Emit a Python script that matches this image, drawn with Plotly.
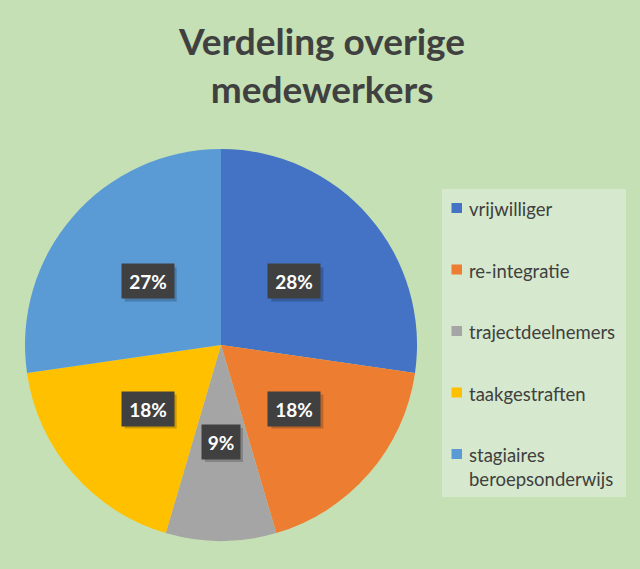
import math
import plotly.graph_objects as go

categories = ["vrijwilliger", "re-integratie", "trajectdeelnemers", "taakgestraften",
              "stagiaires<br>beroepsonderwijs"]
values = [3, 2, 1, 2, 3]
# percentages as printed on the chart (Excel rounds them to total 100%)
pct_labels = ["28%", "18%", "9%", "18%", "27%"]
colors = ["#4472C4", "#ED7D31", "#A5A5A5", "#FFC000", "#5B9BD5"]

W, H = 640, 569
# pie placement in pixels (left, right, top, bottom)
px0, px1, py0, py1 = 25, 417, 148, 542

fig = go.Figure()
fig.add_trace(go.Pie(
    labels=[c.replace("<br>", " ") for c in categories],
    values=values,
    marker=dict(colors=colors),
    sort=False,
    direction="clockwise",
    rotation=0,
    textinfo="none",
    hoverinfo="label+percent",
    showlegend=False,
    domain=dict(x=[px0 / W, px1 / W], y=[1 - py1 / H, 1 - py0 / H]),
))

# data labels: dark boxes at half radius of each slice midpoint
cx = (px0 + px1) / 2
cy = (py0 + py1) / 2
r = min(px1 - px0, py1 - py0) / 2 * 0.495
total = sum(values)
cum = 0
pad = 6
for v, lab in zip(values, pct_labels):
    mid = (cum + v / 2) / total * 2 * math.pi
    cum += v
    x = cx + r * math.sin(mid)
    y = cy - r * math.cos(mid)
    bw = 14 * len(lab) - 2
    bh = 22
    # soft shadow behind the box
    fig.add_shape(type="rect", xref="paper", yref="paper",
                  x0=(x - bw / 2 - pad + 3) / W, x1=(x + bw / 2 + pad + 3) / W,
                  y0=1 - (y + bh / 2 + pad + 3) / H, y1=1 - (y - bh / 2 - pad + 3) / H,
                  fillcolor="rgba(0,0,0,0.2)", line=dict(width=0))
    fig.add_annotation(
        x=x / W, y=1 - y / H, xref="paper", yref="paper",
        xanchor="center", yanchor="middle",
        width=bw, height=bh,
        text="<b>%s</b>" % lab, showarrow=False,
        font=dict(family="Lato", size=19, color="white"),
        bgcolor="#404040", borderpad=pad,
    )

# legend drawn by hand so the spacing matches the original
lx0, lx1, ly0, ly1 = 442, 626, 189, 497
fig.add_shape(type="rect", xref="paper", yref="paper",
              x0=lx0 / W, x1=lx1 / W, y0=1 - ly1 / H, y1=1 - ly0 / H,
              fillcolor="#D6E8CD", line=dict(width=0), layer="below")
step = 61.5
for i, (c, col) in enumerate(zip(categories, colors)):
    yc = 208 + i * step
    fig.add_shape(type="rect", xref="paper", yref="paper",
                  x0=451.5 / W, x1=462 / W, y0=1 - (yc + 5) / H, y1=1 - (yc - 5) / H,
                  fillcolor=col, line=dict(width=0))
    fig.add_annotation(
        x=467 / W, y=1 - (yc - 12) / H, xref="paper", yref="paper",
        xanchor="left", yanchor="top", align="left",
        text=c, showarrow=False,
        font=dict(family="Lato", size=18.5, color="#404040"),
    )

fig.add_annotation(
    x=321 / W, y=1 - 65 / H, xref="paper", yref="paper",
    xanchor="center", yanchor="middle",
    text="<b>Verdeling overige<br>medewerkers</b>", showarrow=False,
    font=dict(family="Lato", size=37, color="#404040"),
)

fig.update_layout(
    width=W, height=H,
    paper_bgcolor="#C5E0B4",
    plot_bgcolor="#C5E0B4",
    margin=dict(l=0, r=0, t=0, b=0),
    showlegend=False,
)

fig.write_html("out.html", config={"displayModeBar": False},
               post_script="document.body.style.margin='0';")
